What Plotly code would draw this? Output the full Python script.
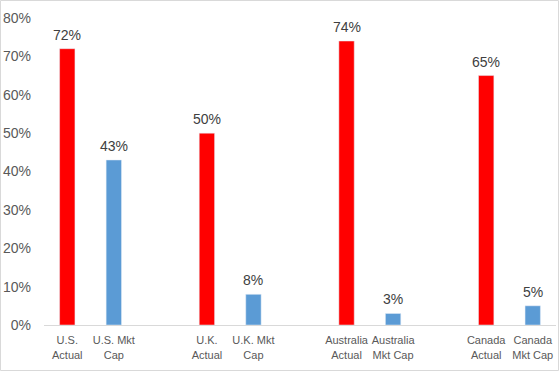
import plotly.graph_objects as go

categories = ["U.S.<br>Actual", "U.S. Mkt<br>Cap", " ",
              "U.K.<br>Actual", "U.K. Mkt<br>Cap", "  ",
              "Australia<br>Actual", "Australia<br>Mkt Cap", "   ",
              "Canada<br>Actual", "Canada<br>Mkt Cap"]
actual_labels = ["U.S.<br>Actual", "U.K.<br>Actual", "Australia<br>Actual", "Canada<br>Actual"]
actual_values = [0.72, 0.50, 0.74, 0.65]
mktcap_labels = ["U.S. Mkt<br>Cap", "U.K. Mkt<br>Cap", "Australia<br>Mkt Cap", "Canada<br>Mkt Cap"]
mktcap_values = [0.43, 0.08, 0.03, 0.05]

W, H = 560, 372
ml, mr, mt, mb = 44, 4, 18, 47
pw, ph = W - ml - mr, H - mt - mb

fnt = "Liberation Sans"
fig = go.Figure()
annotations = []
for xs, vs, col in [(actual_labels, actual_values, "#ff0000"),
                    (mktcap_labels, mktcap_values, "#5b9bd5")]:
    fig.add_trace(go.Bar(x=xs, y=vs, marker_color=col, width=0.33))
    for xv, v in zip(xs, vs):
        annotations.append(dict(x=xv, y=v, xref="x", yref="y", text=f"{v:.0%}",
                                showarrow=False, yanchor="bottom", yshift=4,
                                font=dict(size=14, color="#404040", family=fnt)))

fig.update_layout(
    width=W, height=H, barmode="overlay", showlegend=False,
    margin=dict(l=ml, r=mr, t=mt, b=mb, autoexpand=False),
    paper_bgcolor="white", plot_bgcolor="white",
    font=dict(family=fnt, color="#595959"),
    annotations=annotations,
    xaxis=dict(type="category", categoryorder="array", categoryarray=categories,
               range=[-0.5, len(categories) - 0.5], automargin=False,
               showline=True, linecolor="#d9d9d9", linewidth=1,
               ticks="", ticklabelstandoff=5,
               tickfont=dict(size=11, color="#595959"), showgrid=False),
    yaxis=dict(range=[0, 0.8], dtick=0.1, tickformat=".0%", showgrid=False,
               automargin=False, zeroline=False, ticks="", ticklabelstandoff=12,
               tickfont=dict(size=14, color="#595959")),
    shapes=[dict(type="rect", xref="paper", yref="paper",
                 x0=(0.5 - ml) / pw, x1=(W - 1.5 - ml) / pw,
                 y0=-(mb - 1.5) / ph, y1=1 + (mt - 0.5) / ph,
                 line=dict(color="#d9d9d9", width=1))],
)
fig.write_html("out.html", config={"displayModeBar": False},
               post_script="document.body.style.margin='0';document.body.style.overflow='hidden';")
